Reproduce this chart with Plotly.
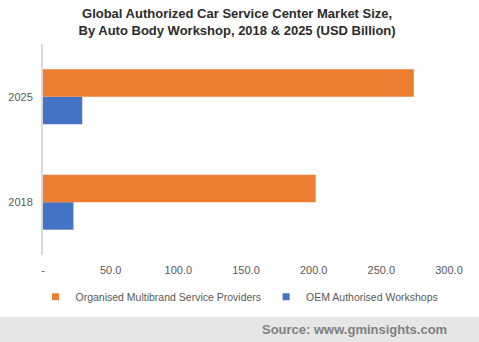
import plotly.graph_objects as go

years = ["2018", "2025"]
multibrand = [201.5, 274.0]
oem = [22.5, 29.0]
x_ticks = [0, 50, 100, 150, 200, 250, 300]
x_tick_text = ["-", "50.0", "100.0", "150.0", "200.0", "250.0", "300.0"]

ORANGE = "#ED7D31"
BLUE = "#4472C4"

fig = go.Figure()
# blue trace first so it sits below the orange bar in each group
fig.add_trace(go.Bar(
    y=years, x=oem, orientation="h", name="OEM Authorised Workshops",
    marker=dict(color=BLUE, line=dict(width=0)), showlegend=False,
))
fig.add_trace(go.Bar(
    y=years, x=multibrand, orientation="h", name="Organised Multibrand Service Providers",
    marker=dict(color=ORANGE, line=dict(width=0)), showlegend=False,
))
# small square legend keys
for name, color in [("Organised Multibrand Service Providers", ORANGE),
                    ("OEM Authorised Workshops", BLUE)]:
    fig.add_trace(go.Scatter(
        x=[None], y=[None], mode="markers", name=name,
        marker=dict(symbol="square", size=7, color=color),
    ))

fig.update_layout(
    width=479, height=342,
    margin=dict(l=43, r=30, t=44, b=87, autoexpand=False),
    paper_bgcolor="white", plot_bgcolor="white",
    barmode="group", bargap=0.48, bargroupgap=0,
    font=dict(family="Liberation Sans, Arial, sans-serif", color="#595959", size=11),
    title=dict(
        text="Global Authorized Car Service Center Market Size,<br>By Auto Body Workshop, 2018 & 2025 (USD Billion)",
        x=0.495, xref="container", xanchor="center", y=0.948, yref="container", yanchor="top",
        font=dict(family="Liberation Sans, Arial, sans-serif", size=13, color="#2b2b2b", weight="bold"),
    ),
    xaxis=dict(
        range=[0, 300], tickvals=x_ticks, ticktext=x_tick_text, automargin=False,
        showgrid=False, zeroline=False, showline=False, ticks="", ticklabelstandoff=7,
        tickfont=dict(size=11, color="#595959"),
    ),
    yaxis=dict(
        showgrid=False, zeroline=False, showline=True, linecolor="#d9d9d9", linewidth=2,
        ticks="", ticklabelstandoff=6, automargin=False, tickfont=dict(size=11, color="#595959"),
    ),
    legend=dict(
        orientation="h", xref="container", x=0.5, xanchor="center",
        yref="container", y=0.132, yanchor="middle",
        font=dict(size=10.5, color="#595959"), itemwidth=30, traceorder="normal",
        itemsizing="trace", bgcolor="rgba(0,0,0,0)",
    ),
    shapes=[dict(
        type="rect", xref="paper", yref="paper",
        x0=-0.2, x1=1.2, y0=-0.5, y1=-0.294,
        fillcolor="#e6e6e6", line=dict(width=0), layer="below",
    )],
    annotations=[dict(
        text="Source: www.gminsights.com", xref="paper", yref="paper",
        x=1.0, xanchor="right", y=-0.355, yanchor="middle", showarrow=False,
        font=dict(family="Liberation Sans, Arial, sans-serif", size=13, color="#7f7f7f", weight="bold"),
    )],
)

fig.write_html("out.html")
